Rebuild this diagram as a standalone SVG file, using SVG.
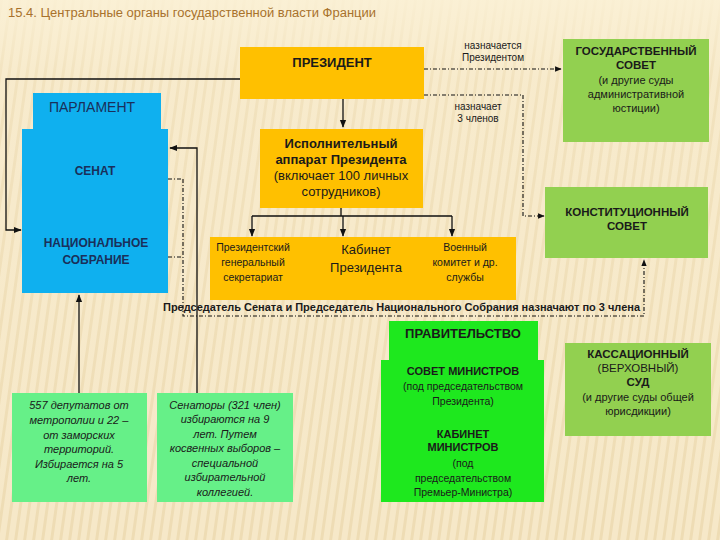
<svg xmlns="http://www.w3.org/2000/svg" width="720" height="540" viewBox="0 0 720 540">
<defs>
<pattern id="stripes" width="9" height="540" patternUnits="userSpaceOnUse" patternTransform="skewX(-8)">
<rect width="9" height="540" fill="#f6e8c8"/>
<rect x="0" width="3" height="540" fill="#eedcb4"/>
</pattern>
<linearGradient id="fade" x1="0" y1="0" x2="0" y2="1">
<stop offset="0" stop-color="#fbf1d6" stop-opacity="0.9"/>
<stop offset="0.15" stop-color="#fbf1d6" stop-opacity="0.3"/>
<stop offset="1" stop-color="#fbf1d6" stop-opacity="0"/>
</linearGradient>
<marker id="arr" viewBox="0 0 10 10" refX="9" refY="5" markerWidth="6" markerHeight="6" orient="auto">
<path d="M0,1 L10,5 L0,9 Z" fill="#111"/>
</marker>
<style>
text{font-family:"Liberation Sans",Arial,sans-serif;text-anchor:middle;fill:#1a1a1a}
.b{font-weight:bold}
.blue{fill:#0fb0ef}
.gold{fill:#ffc000}
.lg{fill:#92d050}
.gg{fill:#1ee81e}
.mg{fill:#66f088}
.pt{fill:#1a2f5a;font-weight:bold}
.it{font-style:italic;font-size:11px}
.solid{fill:none;stroke:#111;stroke-width:1.3}
.dd{fill:none;stroke:#111;stroke-width:1.1;stroke-dasharray:4 2 1 2}
</style>
</defs>
<rect width="720" height="540" fill="url(#stripes)"/>
<rect width="720" height="540" fill="url(#fade)"/>
<text x="8" y="17" style="text-anchor:start;font-size:12px;fill:#a8722c" textLength="368" lengthAdjust="spacingAndGlyphs">15.4. Центральные органы государственной власти Франции</text>

<g id="connectors">
<path class="solid" d="M240,79 H6 V230 H21" marker-end="url(#arr)"/>
<path class="solid" d="M343,99 V127" marker-end="url(#arr)"/>
<path class="dd" d="M424,69 H561" marker-end="url(#arr)"/>
<path class="dd" d="M424,95 H523 V216 H544" marker-end="url(#arr)"/>
<path class="solid" d="M341,208 V216 M252,216 H452"/>
<path class="solid" d="M252,216 V236" marker-end="url(#arr)"/>
<path class="solid" d="M343,216 V236" marker-end="url(#arr)"/>
<path class="solid" d="M452,216 V236" marker-end="url(#arr)"/>
<path class="dd" d="M168,179 H183 M168,257 H183 M183,179 V316 H644 V260" marker-end="url(#arr)"/>
<path class="solid" d="M197,393 V148 H170" marker-end="url(#arr)"/>
<path class="solid" d="M79,393 V295" marker-end="url(#arr)"/>
</g>

<g id="president">
<rect class="gold" x="240" y="47" width="184" height="52"/>
<text x="332" y="67" class="b" style="font-size:13px">ПРЕЗИДЕНТ</text>
</g>
<g id="label-appointed">
<text x="493" y="49" style="font-size:10px">назначается</text>
<text x="493" y="61" style="font-size:10px">Президентом</text>
</g>
<g id="label-3members">
<text x="478" y="110" style="font-size:10px">назначает</text>
<text x="478" y="122" style="font-size:10px">3 членов</text>
</g>
<g id="state-council">
<rect class="lg" x="563" y="39" width="146" height="103"/>
<text x="636" y="55" class="b" style="font-size:11.5px">ГОСУДАРСТВЕННЫЙ</text>
<text x="636" y="69" class="b" style="font-size:11.5px">СОВЕТ</text>
<text x="636" y="84" style="font-size:11px">(и другие суды</text>
<text x="636" y="98" style="font-size:11px">административной</text>
<text x="636" y="112" style="font-size:11px">юстиции)</text>
</g>
<g id="parliament">
<rect class="blue" x="33" y="93" width="128" height="37"/>
<rect class="blue" x="22" y="129" width="146" height="164"/>
<text x="92" y="112" style="font-size:14px;fill:#1a2f5a">ПАРЛАМЕНТ</text>
<text x="95" y="175" class="pt" style="font-size:12px">СЕНАТ</text>
<text x="96" y="247" class="pt" style="font-size:12px">НАЦИОНАЛЬНОЕ</text>
<text x="96" y="264" class="pt" style="font-size:12px">СОБРАНИЕ</text>
</g>
<g id="exec-apparatus">
<rect class="gold" x="260" y="129" width="163" height="79"/>
<text x="341" y="148" class="b" style="font-size:13px">Исполнительный</text>
<text x="341" y="164" class="b" style="font-size:13px">аппарат Президента</text>
<text x="341" y="180" style="font-size:13px">(включает 100 личных</text>
<text x="341" y="196" style="font-size:13px">сотрудников)</text>
</g>
<g id="const-council">
<rect class="lg" x="545" y="187" width="163" height="71"/>
<text x="627" y="216" class="b" style="font-size:11.5px">КОНСТИТУЦИОННЫЙ</text>
<text x="627" y="230" class="b" style="font-size:11.5px">СОВЕТ</text>
</g>
<g id="pres-services">
<rect class="gold" x="210" y="237" width="306" height="63"/>
<text x="253" y="251" style="font-size:10.5px">Президентский</text>
<text x="253" y="266" style="font-size:10.5px">генеральный</text>
<text x="253" y="281" style="font-size:10.5px">секретариат</text>
<text x="366" y="254" style="font-size:13px">Кабинет</text>
<text x="366" y="272" style="font-size:13px">Президента</text>
<text x="465" y="251" style="font-size:10.5px">Военный</text>
<text x="465" y="266" style="font-size:10.5px">комитет и др.</text>
<text x="465" y="281" style="font-size:10.5px">службы</text>
</g>
<g id="label-chairs">
<text x="163" y="311" class="b" style="text-anchor:start;font-size:10.5px" textLength="477" lengthAdjust="spacingAndGlyphs">Председатель Сената и Председатель Национального Собрания назначают по 3 члена</text>
</g>
<g id="government">
<rect class="gg" x="389" y="321" width="149" height="40"/>
<rect class="gg" x="381" y="360" width="163" height="142"/>
<text x="463" y="338" class="b" style="font-size:13px">ПРАВИТЕЛЬСТВО</text>
<text x="463" y="375" class="b" style="font-size:11px">СОВЕТ МИНИСТРОВ</text>
<text x="463" y="390" style="font-size:10.5px">(под председательством</text>
<text x="463" y="405" style="font-size:10.5px">Президента)</text>
<text x="463" y="438" class="b" style="font-size:11px">КАБИНЕТ</text>
<text x="463" y="451" class="b" style="font-size:11px">МИНИСТРОВ</text>
<text x="463" y="467" style="font-size:10.5px">(под</text>
<text x="463" y="482" style="font-size:10.5px">председательством</text>
<text x="463" y="496" style="font-size:10.5px">Премьер-Министра)</text>
</g>
<g id="cassation">
<rect class="lg" x="565" y="343" width="146" height="93"/>
<text x="638" y="358" class="b" style="font-size:11.5px">КАССАЦИОННЫЙ</text>
<text x="638" y="372" style="font-size:11.5px">(ВЕРХОВНЫЙ)</text>
<text x="638" y="386" class="b" style="font-size:11.5px">СУД</text>
<text x="638" y="401" style="font-size:11px">(и другие суды общей</text>
<text x="638" y="415" style="font-size:11px">юрисдикции)</text>
</g>
<g id="deputies">
<rect class="mg" x="12" y="393" width="135" height="109"/>
<text x="79" y="409" class="it">557 депутатов от</text>
<text x="79" y="424" class="it">метрополии и 22 –</text>
<text x="79" y="439" class="it">от заморских</text>
<text x="79" y="453" class="it">территорий.</text>
<text x="79" y="468" class="it">Избирается на 5</text>
<text x="79" y="482" class="it">лет.</text>
</g>
<g id="senators">
<rect class="mg" x="157" y="393" width="136" height="109"/>
<text x="225" y="409" class="it">Сенаторы (321 член)</text>
<text x="225" y="423" class="it">избираются на 9</text>
<text x="225" y="438" class="it">лет. Путем</text>
<text x="225" y="452" class="it">косвенных выборов –</text>
<text x="225" y="467" class="it">специальной</text>
<text x="225" y="481" class="it">избирательной</text>
<text x="225" y="496" class="it">коллегией.</text>
</g>
</svg>
